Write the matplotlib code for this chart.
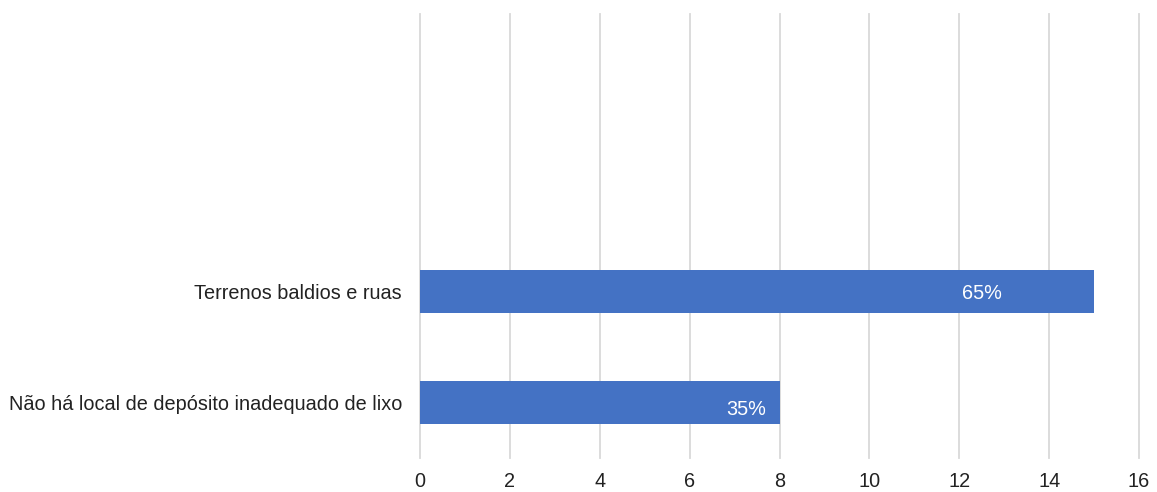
import matplotlib.pyplot as plt

plt.rcParams['font.family'] = ['Liberation Sans', 'DejaVu Sans']

# categories bottom to top; the top two slots are empty in the chart
categories = ['Não há local de depósito inadequado de lixo', 'Terrenos baldios e ruas', '', '']
counts = [8, 15]
pct_labels = ['35%', '65%']
label_x = [7.25, 12.5]
label_dy = [-0.06, -0.02]

fig = plt.figure(figsize=(11.57, 4.92), dpi=100)
ax = fig.add_axes([420 / 1157, 1 - 458 / 492, 719 / 1157, 444 / 492])

ypos = list(range(len(categories)))
ax.barh(ypos[:len(counts)], counts, height=0.39, color='#4472c4', zorder=3)

for y, x, dy, t in zip(ypos, label_x, label_dy, pct_labels):
    ax.text(x, y + dy, t, color='white', fontsize=14.3, ha='center', va='center', zorder=4)

ax.set_xlim(0, 16)
ax.set_ylim(-0.5, len(categories) - 0.5)
ax.set_xticks(range(0, 17, 2))
ax.set_yticks(ypos)
ax.set_yticklabels(categories)
ax.tick_params(axis='both', length=0, labelsize=14.3, colors='#222222')
ax.tick_params(axis='y', pad=13)
ax.tick_params(axis='x', pad=10)
ax.xaxis.grid(True, color='#d9d9d9', linewidth=1.3, zorder=0)
for line in ax.get_xgridlines():
    line.set_clip_on(False)
for s in ax.spines.values():
    s.set_visible(False)

fig.savefig('out.png', dpi=100)
